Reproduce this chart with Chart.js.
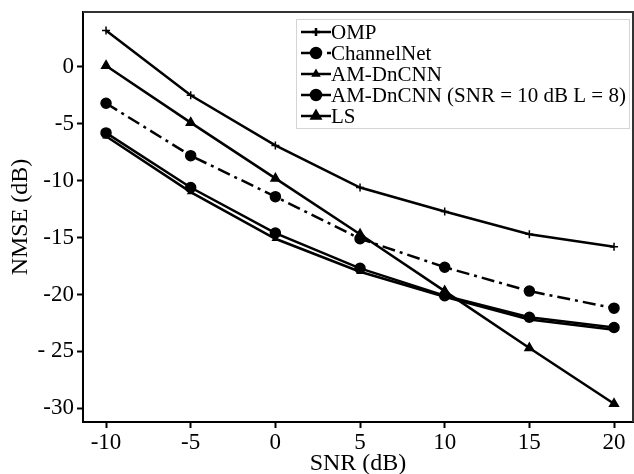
<!DOCTYPE html>
<html>
<head>
<meta charset="utf-8">
<script src="https://cdn.jsdelivr.net/npm/chart.js@4.4.1/dist/chart.umd.min.js"></script>
<style>
    body { margin: 0; background: #fff; }
    #wrap { width: 634px; height: 474px; }
</style>
</head>
<body>
<div id="wrap"><canvas id="chart1" width="634" height="474"></canvas></div>
<script>
// SNR values on the x axis
const snr = [-10, -5, 0, 5, 10, 15, 20]

// NMSE (dB) for each method
const omp = [3.2, -2.5, -6.9, -10.6, -12.7, -14.7, -15.8]
const channelNet = [-3.2, -7.8, -11.4, -15.1, -17.6, -19.7, -21.2]
const amDnCnn = [-6.1, -11.0, -15.1, -18.0, -20.2, -22.2, -23.1]
const amDnCnnSnr10 = [-5.8, -10.6, -14.6, -17.7, -20.1, -22.0, -22.9]
const ls = [0.1, -4.9, -9.8, -14.7, -19.7, -24.7, -29.6]

const seriesNames = ['OMP', 'ChannelNet', 'AM-DnCNN', 'AM-DnCNN (SNR = 10 dB L = 8)', 'LS']

const xTicks = [-10, -5, 0, 5, 10, 15, 20]
const yTicks = [0, -5, -10, -15, -20, -25, -30]
const yTickLabels = ['0', '-5', '-10', '-15', '-20', '- 25', '-30']

const serif = "'Liberation Serif', 'DejaVu Serif', serif"

function toPoints(values) {
    return values.map((v, i) => ({ x: snr[i], y: v }))
}

// legend drawn inside the plot, top right, like the original figure
const innerLegend = {
    id: 'innerLegend',
    afterDraw(chart) {
        const ctx = chart.ctx
        const box = { x: 296, y: 19, w: 333, h: 109 }
        ctx.save()
        ctx.fillStyle = '#fff'
        ctx.fillRect(box.x, box.y, box.w, box.h)
        ctx.strokeStyle = '#d4d4d4'
        ctx.lineWidth = 1
        ctx.strokeRect(box.x + 0.5, box.y + 0.5, box.w, box.h)

        ctx.font = '21px ' + serif
        ctx.textBaseline = 'middle'
        chart.data.datasets.forEach((ds, i) => {
            const y = 32 + i * 21
            ctx.strokeStyle = '#000'
            ctx.lineWidth = 2.5
            ctx.setLineDash(ds.borderDash || [])
            ctx.beginPath()
            ctx.moveTo(301, y)
            ctx.lineTo(331, y)
            ctx.stroke()
            ctx.setLineDash([])
            Chart.helpers.drawPoint(ctx, {
                pointStyle: ds.pointStyle,
                radius: ds.pointRadius,
                borderWidth: 1.5
            }, 316, y)
            ctx.fillStyle = '#000'
            ctx.fillText(ds.label, 331, y + 1)
        })
        ctx.restore()
    }
}

// top and right edges of the frame
const frame = {
    id: 'frame',
    beforeDatasetsDraw(chart) {
        const a = chart.chartArea
        const ctx = chart.ctx
        ctx.save()
        ctx.strokeStyle = '#333'
        ctx.lineWidth = 2
        ctx.beginPath()
        ctx.moveTo(a.left, a.top)
        ctx.lineTo(a.right, a.top)
        ctx.lineTo(a.right, a.bottom)
        ctx.stroke()
        ctx.restore()
    }
}

const common = {
    borderColor: '#000',
    backgroundColor: '#000',
    pointBorderColor: '#000',
    pointBackgroundColor: '#000',
    borderWidth: 2.5,
    pointBorderWidth: 1.5,
    fill: false,
    tension: 0,
    clip: false
}

const ctx1 = document.querySelector('#chart1').getContext('2d');
const chart1 = new Chart(ctx1, {
    type: 'line',
    data: {
        datasets: [
            { ...common, label: seriesNames[0], data: toPoints(omp), pointStyle: 'cross', pointRadius: 4 },
            { ...common, label: seriesNames[1], data: toPoints(channelNet), pointStyle: 'circle', pointRadius: 5, borderDash: [13, 5, 3, 5] },
            { ...common, label: seriesNames[2], data: toPoints(amDnCnn), pointStyle: 'triangle', pointRadius: 3 },
            { ...common, label: seriesNames[3], data: toPoints(amDnCnnSnr10), pointStyle: 'circle', pointRadius: 5 },
            { ...common, label: seriesNames[4], data: toPoints(ls), pointStyle: 'triangle', pointRadius: 5 }
        ]
    },
    options: {
        responsive: false,
        animation: false,
        layout: { autoPadding: false, padding: { top: 12, right: 1, left: 0, bottom: 0 } },
        plugins: {
            legend: { display: false },
            tooltip: { enabled: false }
        },
        scales: {
            x: {
                type: 'linear',
                min: -11.36,
                max: 21.12,
                afterFit: s => { s.height = 52; s.paddingLeft = 0; s.paddingRight = 0 },
                afterBuildTicks: s => { s.ticks = xTicks.map(v => ({ value: v })) },
                grid: { drawOnChartArea: false, drawTicks: true, tickLength: 6, color: '#000', tickWidth: 2 },
                border: { color: '#000', width: 2 },
                ticks: { color: '#000', padding: 1, font: { family: serif, size: 23 } },
                title: {
                    display: true,
                    text: 'SNR (dB)',
                    color: '#000',
                    padding: { top: 0, bottom: -4 },
                    font: { family: serif, size: 24 }
                }
            },
            y: {
                min: -31.2,
                max: 4.82,
                afterFit: s => { s.width = 83; s.paddingTop = 0; s.paddingBottom = 0 },
                afterBuildTicks: s => { s.ticks = yTicks.map(v => ({ value: v })) },
                grid: { drawOnChartArea: false, drawTicks: true, tickLength: 6, color: '#000', tickWidth: 2 },
                border: { color: '#000', width: 2 },
                ticks: {
                    color: '#000',
                    padding: 3,
                    font: { family: serif, size: 23 },
                    callback: v => yTickLabels[yTicks.indexOf(v)]
                },
                title: {
                    display: true,
                    text: 'NMSE (dB)',
                    color: '#000',
                    padding: { top: 6, bottom: 0 },
                    font: { family: serif, size: 24 }
                }
            }
        }
    },
    plugins: [frame, innerLegend]
});
</script>
</body>
</html>
